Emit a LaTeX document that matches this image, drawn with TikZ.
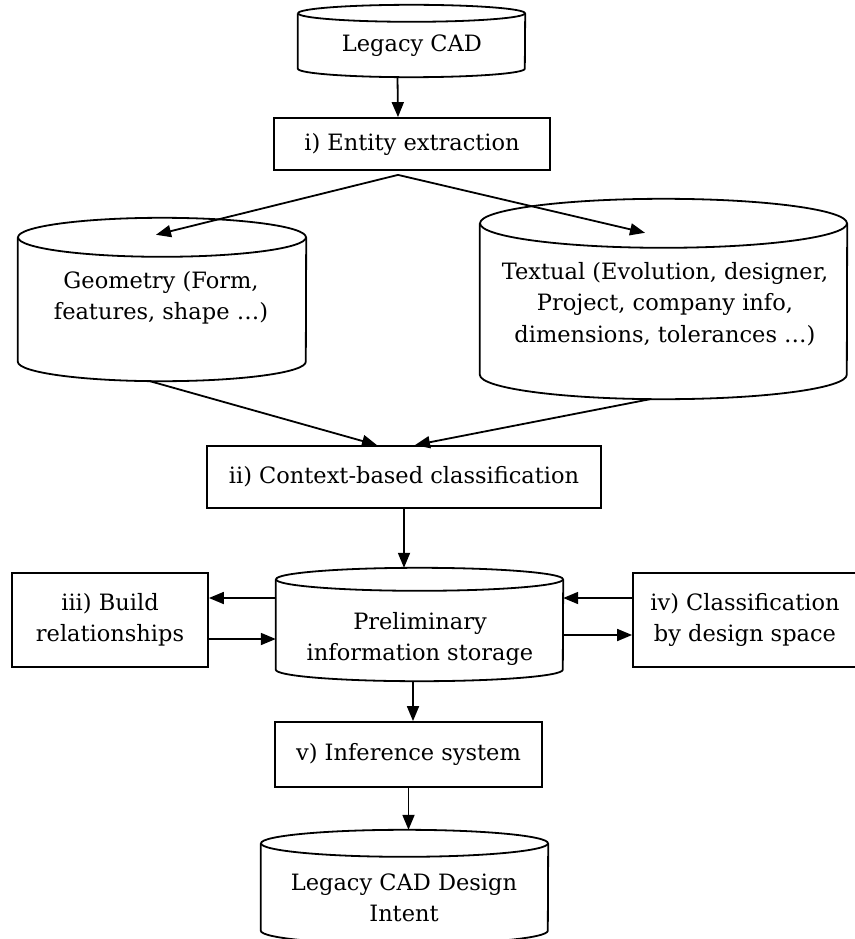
\documentclass[tikz,border=0pt]{standalone}
\usepackage{fontspec}
\setmainfont{DejaVu Serif}
\usetikzlibrary{arrows.meta,calc}
\newcommand\drawcyl[3]{%
  \draw[outl] ([yshift=-#2]#1.north west) -- ([yshift=#2]#1.south west)
    arc[start angle=180,end angle=360,x radius=#3,y radius=#2]
    -- ([yshift=-#2]#1.north east);
  \draw[outl] ([yshift=-#2]#1.north) ellipse[x radius=#3,y radius=#2];
}
\begin{document}
\begin{tikzpicture}[x=1pt,y=-1pt,
  outl/.style={line width=1.8pt,line join=round},
  shell/.style={draw=none,inner sep=0pt,minimum width=#1},
  boxnode/.style={draw,line width=1.8pt,inner sep=0pt,align=center,font=\fontsize{22.5}{31.5}\selectfont},
  lbl/.style={align=center,inner sep=0pt,font=\fontsize{22.5}{31.5}\selectfont},
  arr/.style={line width=1.8pt,-{Triangle[length=15pt,width=12pt]}}]
\useasboundingbox (0,0) rectangle (854,939);
% cylinders (outline holders)
\node[shell=227pt,minimum height=72pt] (cad) at (411.5,41) {};
\node[shell=288pt,minimum height=163pt] (geo) at (162,299.5) {};
\node[shell=367pt,minimum height=200pt] (tex) at (663.5,299) {};
\node[shell=287pt,minimum height=113pt] (pre) at (419.5,624.5) {};
\node[shell=287pt,minimum height=114pt] (fin) at (404.5,887) {};
\drawcyl{cad}{8.5pt}{113.5pt}
\drawcyl{geo}{19.5pt}{144pt}
\drawcyl{tex}{24.5pt}{183.5pt}
\drawcyl{pre}{11.5pt}{143.5pt}
\drawcyl{fin}{13.5pt}{143.5pt}
% cylinder labels
\node[lbl] (cadt) at (412,46) {Legacy CAD};
\node[lbl] (geot) at (161,298) {Geometry (Form,\\features, shape \dots)};
\node[lbl] (text) at (665,304) {Textual (Evolution, designer,\\Project, company info,\\dimensions, tolerances \dots)};
\node[lbl] (pret) at (420,639) {Preliminary\\information storage};
\node[lbl] (fint) at (404,898) {Legacy CAD Design\\Intent};
% boxes
\node[boxnode,minimum width=276pt,minimum height=52pt] (ent) at (412,144) {i) Entity extraction};
\node[boxnode,minimum width=394pt,minimum height=62pt] (ctx) at (404,477) {ii) Context-based classification};
\node[boxnode,minimum width=196pt,minimum height=94pt] (iii) at (110,620) {iii) Build\\relationships};
\node[boxnode,minimum width=224pt,minimum height=94pt] (iv) at (745,620) {iv) Classification\\by design space};
\node[boxnode,minimum width=267pt,minimum height=65pt] (v) at (408.5,754.5) {v) Inference system};
% connectors
\draw[arr] ([xshift=-14pt]cad.south) -- ([xshift=-14pt]ent.north);
\coordinate (ap) at ([xshift=-14pt,yshift=-4pt]ent.south);
\draw[arr] (ap) -- ([xshift=-6pt,yshift=-17pt]geo.north);
\draw[arr] (ap) -- ([xshift=-18.5pt,yshift=-34pt]tex.north);
\draw[arr] ([xshift=-12pt]geo.south) -- ([xshift=-27pt]ctx.north);
\draw[arr] ([xshift=-13.5pt]tex.south) -- ([xshift=11pt]ctx.north);
\draw[arr] (ctx.south) -- (ctx.south |- pre.north);
\coordinate (pl1) at ([yshift=26.5pt]pre.west);
\coordinate (pl2) at ([yshift=-14.5pt]pre.west);
\coordinate (pr1) at ([yshift=26.5pt]pre.east);
\coordinate (pr2) at ([yshift=-10.5pt]pre.east);
\draw[arr] (pl1) -- (pl1 -| iii.east);
\draw[arr] (iii.east |- pl2) -- (pl2);
\draw[arr] (iv.west |- pr1) -- (pr1);
\draw[arr] (pr2) -- (pr2 -| iv.west);
\coordinate (pb) at ([xshift=-6.5pt]pre.south);
\draw[arr] (pb) -- (pb |- v.north);
\draw[arr] (v.south) -- (v.south |- fin.north);
\end{tikzpicture}
\end{document}
